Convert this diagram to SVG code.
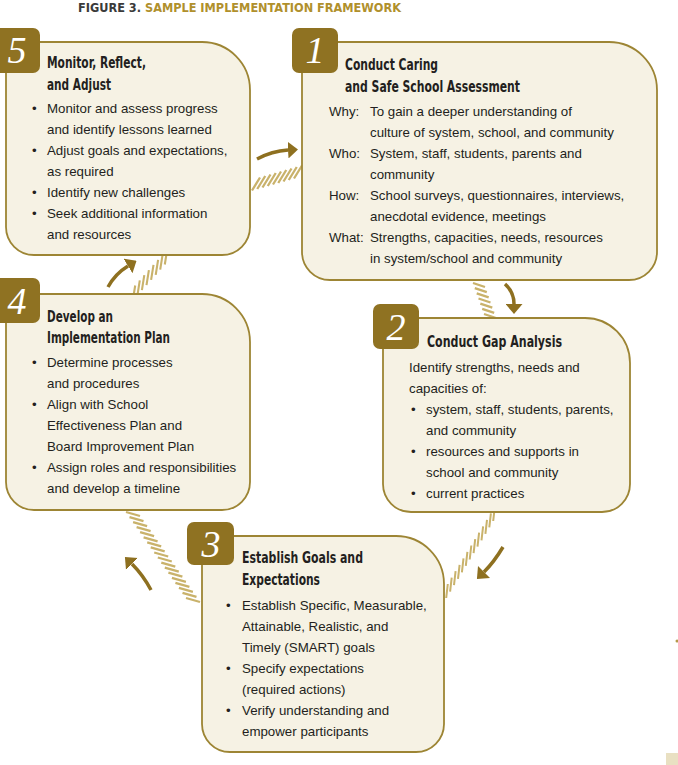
<svg xmlns="http://www.w3.org/2000/svg" width="678" height="765" viewBox="0 0 678 765">
<style>
.box{fill:#f6f2e4;stroke:#9d8534;stroke-width:1.8}
.badge{fill:#8f7222}
.num{font-family:"Liberation Serif",serif;font-style:italic;font-size:38px;fill:#ffffff;text-anchor:middle}
.hd{font-family:"DejaVu Sans Condensed","Liberation Sans",sans-serif;font-weight:bold;font-size:15px;fill:#231f20}
.tx{font-family:"Liberation Sans",Arial,sans-serif;font-size:13.3px;fill:#231f20}
.hatch{fill:none;stroke:#c9b26b;stroke-width:2.3}
.arr{fill:none;stroke:#8e7020;stroke-width:3.5}
</style>
<defs>
<marker id="ah" viewBox="0 0 10 17" refX="0" refY="8.5" markerWidth="10" markerHeight="17" markerUnits="userSpaceOnUse" orient="auto">
<path d="M0,0 L10,8.5 L0,17 Z" fill="#8e7020"/>
</marker>
</defs>
<rect width="678" height="765" fill="#ffffff"/>
<text x="78" y="12" textLength="323" lengthAdjust="spacingAndGlyphs" font-family="'DejaVu Sans Condensed','Liberation Sans',sans-serif" font-weight="bold" font-size="13"><tspan fill="#3a3a3a">FIGURE 3. </tspan><tspan fill="#b0902c">SAMPLE IMPLEMENTATION FRAMEWORK</tspan></text>

<g id="connectors">
<path class="hatch" d="M252,190.5L260,177.5M257.25,189L265.25,176M262.5,187.5L270.5,174.5M267.75,186L275.75,173M273,184.5L281,171.5M278.25,183L286.25,170M283.5,181.5L291.5,168.5M288.75,180L296.75,167M294,178.5L302,165.5"/>
<path class="hatch" d="M473,283L485,287M474.8,288.2L486.8,292.2M476.7,293.3L488.7,297.3M478.5,298.5L490.5,302.5M480.3,303.7L492.3,307.7M482.2,308.8L494.2,312.8M484,314L496,318"/>
<path class="hatch" style="stroke-width:2" d="M493.2,521L494.8,507M489.3,527.4L490.9,513.4M485.4,533.8L487,519.8M481.5,540.3L483.1,526.3M477.5,546.7L479.1,532.7M473.6,553.1L475.2,539.1M469.7,559.5L471.3,545.5M465.8,565.9L467.4,551.9M461.9,572.3L463.5,558.3M458,578.8L459.6,564.8M454,585.2L455.6,571.2M450.1,591.6L451.7,577.6M446.2,598L447.8,584"/>
<path class="hatch" d="M126,512L140,516M129.5,517.1L143.5,521.1M133.1,522.1L147.1,526.1M136.6,527.2L150.6,531.2M140.1,532.2L154.1,536.2M143.6,537.3L157.6,541.3M147.2,542.4L161.2,546.4M150.7,547.4L164.7,551.4M154.2,552.5L168.2,556.5M157.8,557.5L171.8,561.5M161.3,562.6L175.3,566.6M164.8,567.6L178.8,571.6M168.4,572.7L182.4,576.7M171.9,577.8L185.9,581.8M175.4,582.8L189.4,586.8M178.9,587.9L192.9,591.9M182.5,592.9L196.5,596.9M186,598L200,602"/>
<path class="hatch" style="stroke-width:2.1" d="M132.8,300.5L135.2,285.5M137.4,295.4L139.8,280.4M141.9,290.2L144.3,275.2M146.5,285.1L148.9,270.1M151.1,279.9L153.5,264.9M155.7,274.8L158.1,259.8M160.2,269.6L162.6,254.6M164.8,264.5L167.2,249.5"/>
<path class="arr" d="M257,159 Q272,151 288,150" marker-end="url(#ah)"/>
<path class="arr" d="M505,284 Q514,292 514,304" marker-end="url(#ah)"/>
<path class="arr" d="M503,547 Q494,562 484,572" marker-end="url(#ah)"/>
<path class="arr" d="M151,590 Q143,575 132,564" marker-end="url(#ah)"/>
<path class="arr" d="M108,287 Q115,274 128,266" marker-end="url(#ah)"/>
</g>

<g id="node5">
<path class="box" d="M16,42 H202 A48,48 0 0 1 250,90 V227 A28,28 0 0 1 222,255 H34 A28,28 0 0 1 6,227 V52 A10,10 0 0 1 16,42 Z"/>
<rect class="badge" x="-6" y="28" width="46" height="45" rx="7"/>
<text class="num" x="17" y="63">5</text>
<text class="hd" x="47" y="68" textLength="99" lengthAdjust="spacingAndGlyphs">Monitor, Reflect,</text>
<text class="hd" x="47" y="90" textLength="64" lengthAdjust="spacingAndGlyphs">and Adjust</text>
<g class="tx">
<text x="32" y="113">•</text><text x="47" y="113">Monitor and assess progress</text>
<text x="47" y="134">and identify lessons learned</text>
<text x="32" y="155">•</text><text x="47" y="155">Adjust goals and expectations,</text>
<text x="47" y="176">as required</text>
<text x="32" y="197">•</text><text x="47" y="197">Identify new challenges</text>
<text x="32" y="218">•</text><text x="47" y="218">Seek additional information</text>
<text x="47" y="239">and resources</text>
</g>
</g>

<g id="node1">
<path class="box" d="M312,42 H609 A48,48 0 0 1 657,90 V252 A28,28 0 0 1 629,280 H330 A28,28 0 0 1 302,252 V52 A10,10 0 0 1 312,42 Z"/>
<rect class="badge" x="292" y="28" width="46" height="45" rx="7"/>
<text class="num" x="315" y="63">1</text>
<text class="hd" x="345" y="70" textLength="93" lengthAdjust="spacingAndGlyphs">Conduct Caring</text>
<text class="hd" x="345" y="92" textLength="175" lengthAdjust="spacingAndGlyphs">and Safe School Assessment</text>
<g class="tx">
<text x="329" y="116">Why:</text><text x="370" y="116">To gain a deeper understanding of</text>
<text x="370" y="137">culture of system, school, and community</text>
<text x="329" y="158">Who:</text><text x="370" y="158">System, staff, students, parents and</text>
<text x="370" y="179">community</text>
<text x="329" y="200">How:</text><text x="370" y="200">School surveys, questionnaires, interviews,</text>
<text x="370" y="221">anecdotal evidence, meetings</text>
<text x="329" y="242">What:</text><text x="370" y="242">Strengths, capacities, needs, resources</text>
<text x="370" y="263">in system/school and community</text>
</g>
</g>

<g id="node2">
<path class="box" d="M393,318 H585 A45,45 0 0 1 630,363 V484 A28,28 0 0 1 602,512 H411 A28,28 0 0 1 383,484 V328 A10,10 0 0 1 393,318 Z"/>
<rect class="badge" x="373" y="304" width="46" height="45" rx="7"/>
<text class="num" x="396" y="340">2</text>
<text class="hd" x="427" y="347" textLength="135" lengthAdjust="spacingAndGlyphs">Conduct Gap Analysis</text>
<g class="tx">
<text x="409" y="372">Identify strengths, needs and</text>
<text x="409" y="393">capacities of:</text>
<text x="411" y="414">•</text><text x="426" y="414">system, staff, students, parents,</text>
<text x="426" y="435">and community</text>
<text x="411" y="456">•</text><text x="426" y="456">resources and supports in</text>
<text x="426" y="477">school and community</text>
<text x="411" y="498">•</text><text x="426" y="498">current practices</text>
</g>
</g>

<g id="node3">
<path class="box" d="M212,536 H396 A48,48 0 0 1 444,584 V724 A28,28 0 0 1 416,752 H230 A28,28 0 0 1 202,724 V546 A10,10 0 0 1 212,536 Z"/>
<rect class="badge" x="187" y="522" width="47" height="43" rx="7"/>
<text class="num" x="211" y="557">3</text>
<text class="hd" x="242" y="563" textLength="121" lengthAdjust="spacingAndGlyphs">Establish Goals and</text>
<text class="hd" x="242" y="585" textLength="78" lengthAdjust="spacingAndGlyphs">Expectations</text>
<g class="tx">
<text x="226" y="610">•</text><text x="242" y="610">Establish Specific, Measurable,</text>
<text x="242" y="631">Attainable, Realistic, and</text>
<text x="242" y="652">Timely (SMART) goals</text>
<text x="226" y="673">•</text><text x="242" y="673">Specify expectations</text>
<text x="242" y="694">(required actions)</text>
<text x="226" y="715">•</text><text x="242" y="715">Verify understanding and</text>
<text x="242" y="736">empower participants</text>
</g>
</g>

<g id="node4">
<path class="box" d="M16,294 H202 A48,48 0 0 1 250,342 V482 A28,28 0 0 1 222,510 H34 A28,28 0 0 1 6,482 V304 A10,10 0 0 1 16,294 Z"/>
<rect class="badge" x="-6" y="278" width="46" height="45" rx="7"/>
<text class="num" x="17" y="314">4</text>
<text class="hd" x="47" y="322" textLength="66" lengthAdjust="spacingAndGlyphs">Develop an</text>
<text class="hd" x="47" y="343" textLength="123" lengthAdjust="spacingAndGlyphs">Implementation Plan</text>
<g class="tx">
<text x="32" y="367">•</text><text x="47" y="367">Determine processes</text>
<text x="47" y="388">and procedures</text>
<text x="32" y="409">•</text><text x="47" y="409">Align with School</text>
<text x="47" y="430">Effectiveness Plan and</text>
<text x="47" y="451">Board Improvement Plan</text>
<text x="32" y="472">•</text><text x="47" y="472">Assign roles and responsibilities</text>
<text x="47" y="493">and develop a timeline</text>
</g>
</g>

<circle cx="677" cy="641" r="1.5" fill="#b39a4a"/>
<rect x="666" y="753" width="12" height="12" fill="#e9e0c2"/>
</svg>
